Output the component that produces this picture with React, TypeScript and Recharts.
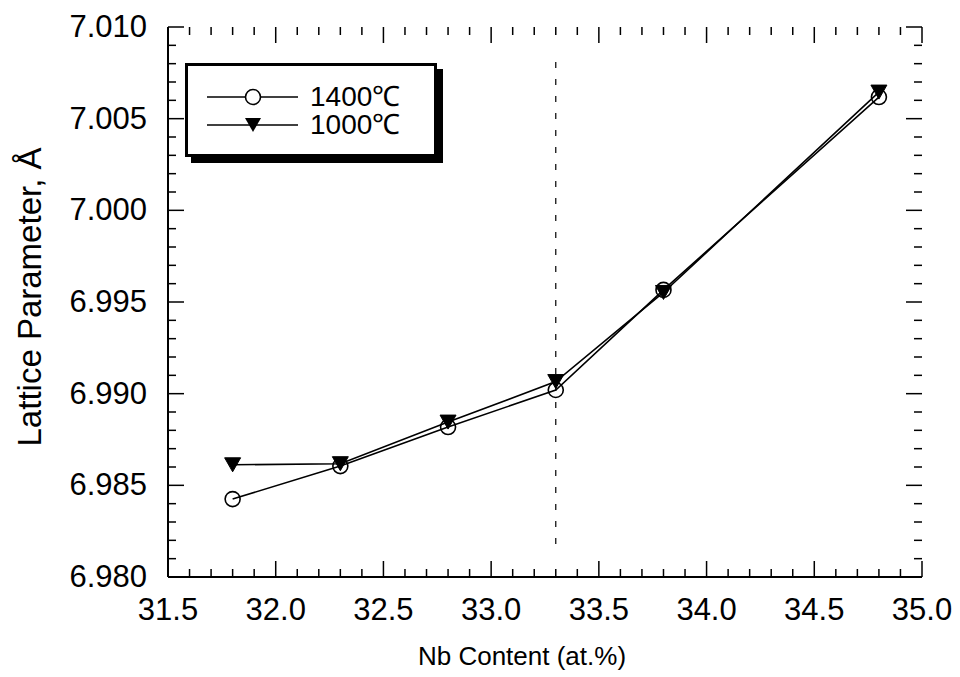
import React from 'react';
import { Legend, Line, LineChart, ReferenceLine, XAxis, YAxis } from 'recharts';

// Nb content (at.%) and lattice parameter (Å)
const nbContent = [31.8, 32.3, 32.8, 33.3, 33.8, 34.8];
const lattice1400 = [6.98425, 6.98605, 6.98818, 6.9902, 6.99566, 7.00618];
const lattice1000 = [6.98612, 6.98618, 6.98845, 6.99066, 6.99552, 7.00645];

const xMajorTicks = [31.5, 32.0, 32.5, 33.0, 33.5, 34.0, 34.5, 35.0];
const yMajorTicks = [6.98, 6.985, 6.99, 6.995, 7.0, 7.005, 7.01];
const boundaryNb = 33.3;

const data = nbContent.map((nb, i) => ({ nb, t1400: lattice1400[i], t1000: lattice1000[i] }));

// minor ticks every 0.1 at.% and every 0.001 Å
const xMinorTicks = Array.from({ length: 36 }, (_, i) => Math.round((31.5 + i * 0.1) * 10) / 10);
const yMinorTicks = Array.from({ length: 31 }, (_, i) => Math.round((6.98 + i * 0.001) * 1000) / 1000);

const X0 = 31.5, X1 = 35;
const Y0 = 6.98, Y1 = 7.01;

// plot area is 754 x 550 px; inward tick lengths in data units
const PLOT_W = 754, PLOT_H = 550;
const xLen = (px: number) => (px * (X1 - X0)) / PLOT_W;
const yLen = (px: number) => (px * (Y1 - Y0)) / PLOT_H;

const FONT = '"Liberation Sans", Arial, Helvetica, sans-serif';
const axisLine = { stroke: '#000', strokeWidth: 2 };

const BottomLabel = (props: any) => {
  const { x, y, payload } = props;
  return (
    <text x={x} y={y + 43} textAnchor="middle" fontSize={31} fontFamily={FONT} fill="#000">
      {Number(payload.value).toFixed(1)}
    </text>
  );
};

const LeftLabel = (props: any) => {
  const { x, y, payload } = props;
  return (
    <text x={x - 21} y={y + 10} textAnchor="end" fontSize={31} fontFamily={FONT} fill="#000">
      {Number(payload.value).toFixed(3)}
    </text>
  );
};

const CircleDot = (props: any) => {
  const { cx, cy } = props;
  if (cx == null || cy == null) return null;
  return <circle cx={cx} cy={cy} r={7.5} fill="none" stroke="#000" strokeWidth={1.6} />;
};

const TriangleDot = (props: any) => {
  const { cx, cy } = props;
  if (cx == null || cy == null) return null;
  return <polygon points={`${cx - 8},${cy - 7} ${cx + 8},${cy - 7} ${cx},${cy + 7}`} fill="#000" stroke="#000" strokeWidth={1} />;
};

const LegendBox = () => (
  <div
    style={{
      position: 'relative',
      width: 246,
      height: 88,
      border: '3px solid #000',
      boxShadow: '6px 6px 0 #000',
      background: '#fff',
      fontFamily: FONT,
    }}
  >
    {[
      { label: '1400℃', circle: true, top: 31 },
      { label: '1000℃', circle: false, top: 59 },
    ].map((row) => (
      <div key={row.label}>
        <svg width={100} height={20} style={{ position: 'absolute', left: 17, top: row.top - 10 }}>
          <line x1={2} y1={10} x2={93} y2={10} stroke="#000" strokeWidth={1.6} />
          {row.circle ? (
            <circle cx={48} cy={10} r={7.5} fill="#fff" stroke="#000" strokeWidth={1.6} />
          ) : (
            <polygon points="40,3 56,3 48,17" fill="#000" />
          )}
        </svg>
        <span style={{ position: 'absolute', left: 122, top: row.top - 12, fontSize: 28, lineHeight: '24px', color: '#000' }}>
          {row.label}
        </span>
      </div>
    ))}
  </div>
);

const tickStyle = { stroke: '#000', strokeWidth: 1.5, ifOverflow: 'visible' as const };

// inward tick marks on all four sides of the frame
const renderTicks = () => {
  const out: React.ReactNode[] = [];
  const add = (key: string, a: { x: number; y: number }, b: { x: number; y: number }) =>
    out.push(<ReferenceLine key={key} segment={[a, b]} {...tickStyle} />);
  xMinorTicks.forEach((v) => {
    const len = yLen(xMajorTicks.some((m) => Math.abs(m - v) < 1e-6) ? 16 : 8);
    add(`xb${v}`, { x: v, y: Y0 }, { x: v, y: Y0 + len });
    add(`xt${v}`, { x: v, y: Y1 }, { x: v, y: Y1 - len });
  });
  yMinorTicks.forEach((v) => {
    const len = xLen(yMajorTicks.some((m) => Math.abs(m - v) < 1e-6) ? 16 : 8);
    add(`yl${v}`, { x: X0, y: v }, { x: X0 + len, y: v });
    add(`yr${v}`, { x: X1, y: v }, { x: X1 - len, y: v });
  });
  return out;
};

export default function App() {
  return (
    <div style={{ position: 'absolute', left: 0, top: 0, background: '#fff' }}>
      <LineChart width={960} height={677} data={data} margin={{ top: 27, right: 38, left: 0, bottom: 0 }}>
        <XAxis
          dataKey="nb"
          type="number"
          domain={[X0, X1]}
          ticks={xMajorTicks}
          interval={0}
          height={100}
          tickSize={0}
          tickMargin={0}
          tickLine={false}
          axisLine={axisLine}
          tick={<BottomLabel />}
          label={{
            value: 'Nb Content (at.%)',
            content: () => (
              <text x={522} y={665} textAnchor="middle" fontSize={26} fontFamily={FONT} fill="#000">
                Nb Content (at.%)
              </text>
            ),
          }}
        />
        <XAxis xAxisId="top" orientation="top" dataKey="nb" type="number" domain={[X0, X1]} ticks={xMajorTicks}
          height={0} tick={false} tickLine={false} axisLine={axisLine} />
        <YAxis
          type="number"
          domain={[Y0, Y1]}
          ticks={yMajorTicks}
          interval={0}
          width={168}
          tickSize={0}
          tickMargin={0}
          tickLine={false}
          axisLine={axisLine}
          tick={<LeftLabel />}
          label={{
            value: 'Lattice Parameter, Å',
            content: () => (
              <text x={41} y={297} transform="rotate(-90 41 297)" textAnchor="middle" fontSize={33}
                fontFamily={FONT} fill="#000">
                Lattice Parameter, Å
              </text>
            ),
          }}
        />
        <YAxis yAxisId="right" orientation="right" type="number" domain={[Y0, Y1]} ticks={yMajorTicks}
          width={0} tick={false} tickLine={false} axisLine={axisLine} />

        {renderTicks()}

        <ReferenceLine
          segment={[
            { x: boundaryNb, y: 6.9818 },
            { x: boundaryNb, y: 7.0085 },
          ]}
          stroke="#000"
          strokeWidth={1.2}
          strokeDasharray="6 11"
        />
        <Legend
          layout="horizontal"
          verticalAlign="middle"
          align="center"
          content={() => <LegendBox />}
          wrapperStyle={{ left: 185, top: 63, width: 'auto', height: 'auto' }}
        />
        <Line type="linear" dataKey="t1400" stroke="#000" strokeWidth={1.6} dot={<CircleDot />} activeDot={false}
          isAnimationActive={false} />
        <Line type="linear" dataKey="t1000" stroke="#000" strokeWidth={1.6} dot={<TriangleDot />} activeDot={false}
          isAnimationActive={false} />
      </LineChart>
    </div>
  );
}
